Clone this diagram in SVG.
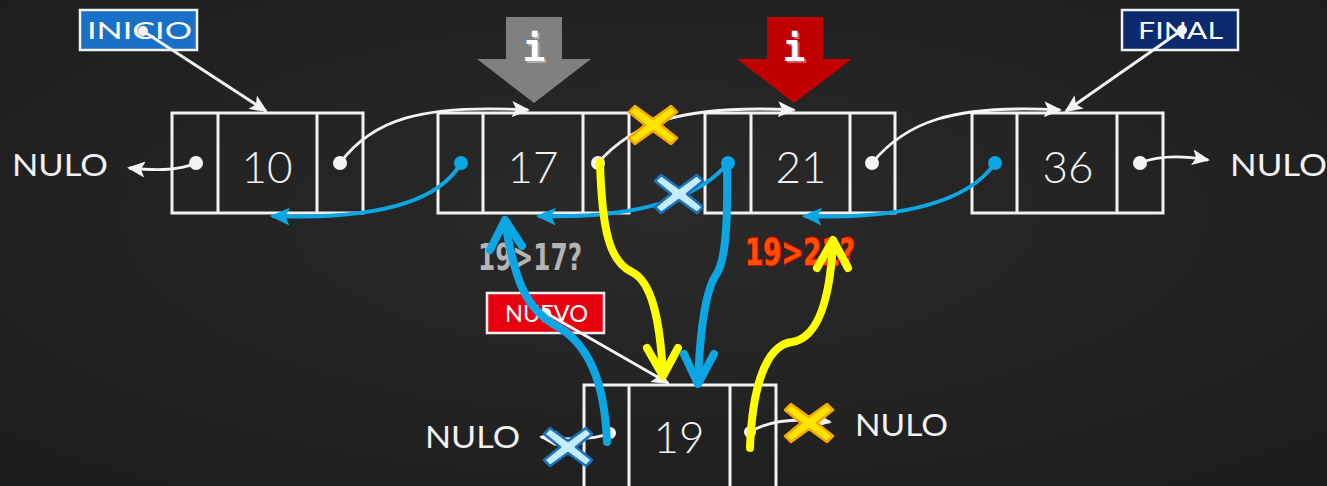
<svg xmlns="http://www.w3.org/2000/svg" width="1327" height="486" viewBox="0 0 1327 486">
<defs>
  <radialGradient id="bg" cx="50%" cy="45%" r="75%">
    <stop offset="0" stop-color="#2a2a2a"/>
    <stop offset="1" stop-color="#1c1c1c"/>
  </radialGradient>
  <marker id="wa" viewBox="0 0 18 16" refX="16" refY="8" markerWidth="18" markerHeight="16" markerUnits="userSpaceOnUse" orient="auto">
    <path d="M0,0 L18,8 L0,16 L4,8 z" fill="#f4f4f4"/>
  </marker>
  <marker id="ba" viewBox="0 0 18 16" refX="16" refY="8" markerWidth="20" markerHeight="18" markerUnits="userSpaceOnUse" orient="auto">
    <path d="M0,0 L18,8 L0,16 L4,8 z" fill="#0ba6e3"/>
  </marker>
  <path id="xshape" d="M-24,-13 L-18,-19 L0,-6 L18,-19 L24,-13 L8,0 L24,13 L18,19 L0,6 L-18,19 L-24,13 L-8,0 z"/>
  <style>
    .box{fill:none;stroke:#f2f2f2;stroke-width:3}
    .num{font-family:Lato,"Open Sans",sans-serif;font-weight:300;font-size:44px;fill:#f2f2f2;text-anchor:middle}
    .nulo{font-family:Lato,"Open Sans",sans-serif;font-size:31px;fill:#f2f2f2}
    .lbl{font-family:Lato,"Open Sans",sans-serif;font-size:24px;fill:#ffffff}
    .wline{fill:none;stroke:#f4f4f4;stroke-width:2.8}
    .bline{fill:none;stroke:#0ba6e3;stroke-width:4}
    .wdot{fill:#f4f4f4}
    .bdot{fill:#0ba6e3}
    .thickY{fill:none;stroke:#ffff00;stroke-width:8;stroke-linecap:round;stroke-linejoin:round}
    .thickB{fill:none;stroke:#0ba6e3;stroke-width:8;stroke-linecap:round;stroke-linejoin:round}
    .xy{fill:#ffe400;stroke:#f5a800;stroke-width:2.5;stroke-linejoin:round}
    .xb{fill:#c5ecfc;stroke:#1a72b8;stroke-width:2.5;stroke-linejoin:round}
    .ichar{font-family:"DejaVu Sans Mono",monospace;font-weight:bold;font-size:38px;fill:#ffffff;text-anchor:middle}
    .cmp{font-family:"DejaVu Sans Condensed","DejaVu Sans",sans-serif;font-weight:bold;font-size:38px}
  </style>
</defs>
<rect width="1327" height="486" fill="url(#bg)"/>

<!-- pointer arrows i -->
<g id="ptr-i-gray">
  <polygon points="506,17 562,17 562,59 591,59 534,103 477,59 506,59" fill="#808080"/>
  <text class="ichar" x="536" y="63" fill="#000" opacity="0.35">i</text>
  <text class="ichar" x="534" y="61">i</text>
</g>
<g id="ptr-i-red">
  <polygon points="767,17 823,17 823,59 852,59 794,103 737,59 767,59" fill="#c00000"/>
  <text class="ichar" x="796" y="63" fill="#000" opacity="0.35">i</text>
  <text class="ichar" x="794" y="61">i</text>
</g>

<!-- nodes -->
<g id="node-10">
  <rect class="box" x="172" y="113" width="191" height="100"/>
  <line class="box" x1="218" y1="113" x2="218" y2="213"/>
  <line class="box" x1="317" y1="113" x2="317" y2="213"/>
  <text class="num" x="267" y="183">10</text>
</g>
<g id="node-17">
  <rect class="box" x="438" y="113" width="191" height="100"/>
  <line class="box" x1="483" y1="113" x2="483" y2="213"/>
  <line class="box" x1="583" y1="113" x2="583" y2="213"/>
  <text class="num" x="533" y="183">17</text>
</g>
<g id="node-21">
  <rect class="box" x="705" y="113" width="190" height="100"/>
  <line class="box" x1="751" y1="113" x2="751" y2="213"/>
  <line class="box" x1="850" y1="113" x2="850" y2="213"/>
  <text class="num" x="801" y="183">21</text>
</g>
<g id="node-36">
  <rect class="box" x="972" y="113" width="191" height="100"/>
  <line class="box" x1="1017" y1="113" x2="1017" y2="213"/>
  <line class="box" x1="1117" y1="113" x2="1117" y2="213"/>
  <text class="num" x="1068" y="183">36</text>
</g>
<g id="node-19">
  <rect class="box" x="584" y="385" width="192" height="106"/>
  <line class="box" x1="629" y1="385" x2="629" y2="491"/>
  <line class="box" x1="730" y1="385" x2="730" y2="491"/>
  <text class="num" x="679" y="453">19</text>
</g>

<!-- labels -->
<g id="label-inicio">
  <rect x="80" y="10" width="117" height="40" fill="#1a6fc6" stroke="#f2f2f2" stroke-width="2.5"/>
  <text class="lbl" x="87" y="39" textLength="105" lengthAdjust="spacingAndGlyphs">INICIO</text>
</g>
<g id="label-final">
  <rect x="1122" y="10" width="116" height="40" fill="#0c2a6e" stroke="#f2f2f2" stroke-width="2.5"/>
  <text class="lbl" x="1138" y="39" textLength="85" lengthAdjust="spacingAndGlyphs">FINAL</text>
</g>
<g id="label-nuevo">
  <rect x="487" y="293" width="117" height="40" fill="#e8000f" stroke="#f2f2f2" stroke-width="2.5"/>
  <text class="lbl" x="505" y="322" textLength="83" lengthAdjust="spacingAndGlyphs">NUEVO</text>
</g>

<g id="nulo-texts">
  <text class="nulo" x="12" y="176" textLength="96" lengthAdjust="spacingAndGlyphs">NULO</text>
  <text class="nulo" x="1230" y="176" textLength="97" lengthAdjust="spacingAndGlyphs">NULO</text>
  <text class="nulo" x="425" y="448" textLength="95" lengthAdjust="spacingAndGlyphs">NULO</text>
  <text class="nulo" x="855" y="436" textLength="93" lengthAdjust="spacingAndGlyphs">NULO</text>
</g>

<g id="compare-texts">
  <text class="cmp" x="478" y="270" fill="#b4b4b4" textLength="104" lengthAdjust="spacingAndGlyphs">19&gt;17?</text>
  <text class="cmp" x="745" y="265" fill="#ff5000" stroke="#e80000" stroke-width="2" paint-order="stroke" textLength="110" lengthAdjust="spacingAndGlyphs">19&gt;21?</text>
</g>

<!-- connectors -->
<g id="connectors">
  <!-- label pointers -->
  <line class="wline" x1="143" y1="31" x2="266" y2="111" marker-end="url(#wa)"/>
  <circle class="wdot" cx="143" cy="31" r="5"/>
  <line class="wline" x1="1182" y1="30" x2="1066" y2="111" marker-end="url(#wa)"/>
  <circle class="wdot" cx="1182" cy="30" r="5"/>
  <line class="wline" x1="546" y1="313" x2="668" y2="383" marker-end="url(#wa)"/>
  <circle class="wdot" cx="546" cy="313" r="5"/>

  <!-- next pointers -->
  <path class="wline" d="M340,163 C372,120 420,104 528,110" marker-end="url(#wa)"/>
  <circle class="wdot" cx="340" cy="163" r="7"/>
  <path class="wline" d="M598,163 C632,124 680,104 794,110" marker-end="url(#wa)"/>
  <circle class="wdot" cx="598" cy="163" r="7"/>
  <path class="wline" d="M872,163 C905,123 950,104 1060,110" marker-end="url(#wa)"/>
  <circle class="wdot" cx="872" cy="163" r="7"/>
  <path class="wline" d="M1140,163 C1160,155 1185,156 1208,160" marker-end="url(#wa)"/>
  <circle class="wdot" cx="1140" cy="163" r="7"/>
  <path class="wline" d="M196,163 C180,170 160,171 129,168" marker-end="url(#wa)"/>
  <circle class="wdot" cx="196" cy="163" r="7"/>
  <path class="wline" d="M610,433 C595,440 570,440 541,437" marker-end="url(#wa)"/>
  <circle class="wdot" cx="610" cy="433" r="6"/>
  <path class="wline" d="M750,432 C770,420 800,418 830,422" marker-end="url(#wa)"/>
  <circle class="wdot" cx="750" cy="432" r="6"/>

  <!-- prev pointers -->
  <path class="bline" d="M461,163 C440,200 380,220 272,216" marker-end="url(#ba)"/>
  <circle class="bdot" cx="461" cy="163" r="7"/>
  <path class="bline" d="M728,163 C700,197 640,219 538,216" marker-end="url(#ba)"/>
  <circle class="bdot" cx="728" cy="163" r="7"/>
  <path class="bline" d="M995,163 C970,200 905,220 804,216" marker-end="url(#ba)"/>
  <circle class="bdot" cx="995" cy="163" r="7"/>

  <!-- thick insertion arrows -->
  <path class="thickB" d="M607,442 C605,395 595,350 560,328 C525,310 515,280 505,222"/>
  <polyline class="thickB" points="490,250 505,220 522,246"/>
  <path class="thickY" d="M600,162 C602,232 610,262 632,272 C652,282 660,320 663,375"/>
  <polyline class="thickY" points="647,348 663,376 678,348"/>
  <path class="thickB" d="M727,165 C728,230 725,262 716,275 C706,290 700,330 698,383"/>
  <polyline class="thickB" points="684,354 698,384 714,354"/>
  <path class="thickY" d="M750,448 C752,390 765,345 792,342 C818,338 830,300 833,242"/>
  <polyline class="thickY" points="817,268 833,240 848,268"/>

  <!-- crosses -->
  <use href="#xshape" class="xy" transform="translate(653,125)"/>
  <use href="#xshape" class="xb" transform="translate(679,194)"/>
  <use href="#xshape" class="xb" transform="translate(568,447)"/>
  <use href="#xshape" class="xy" transform="translate(809,423)"/>
</g>
</svg>
